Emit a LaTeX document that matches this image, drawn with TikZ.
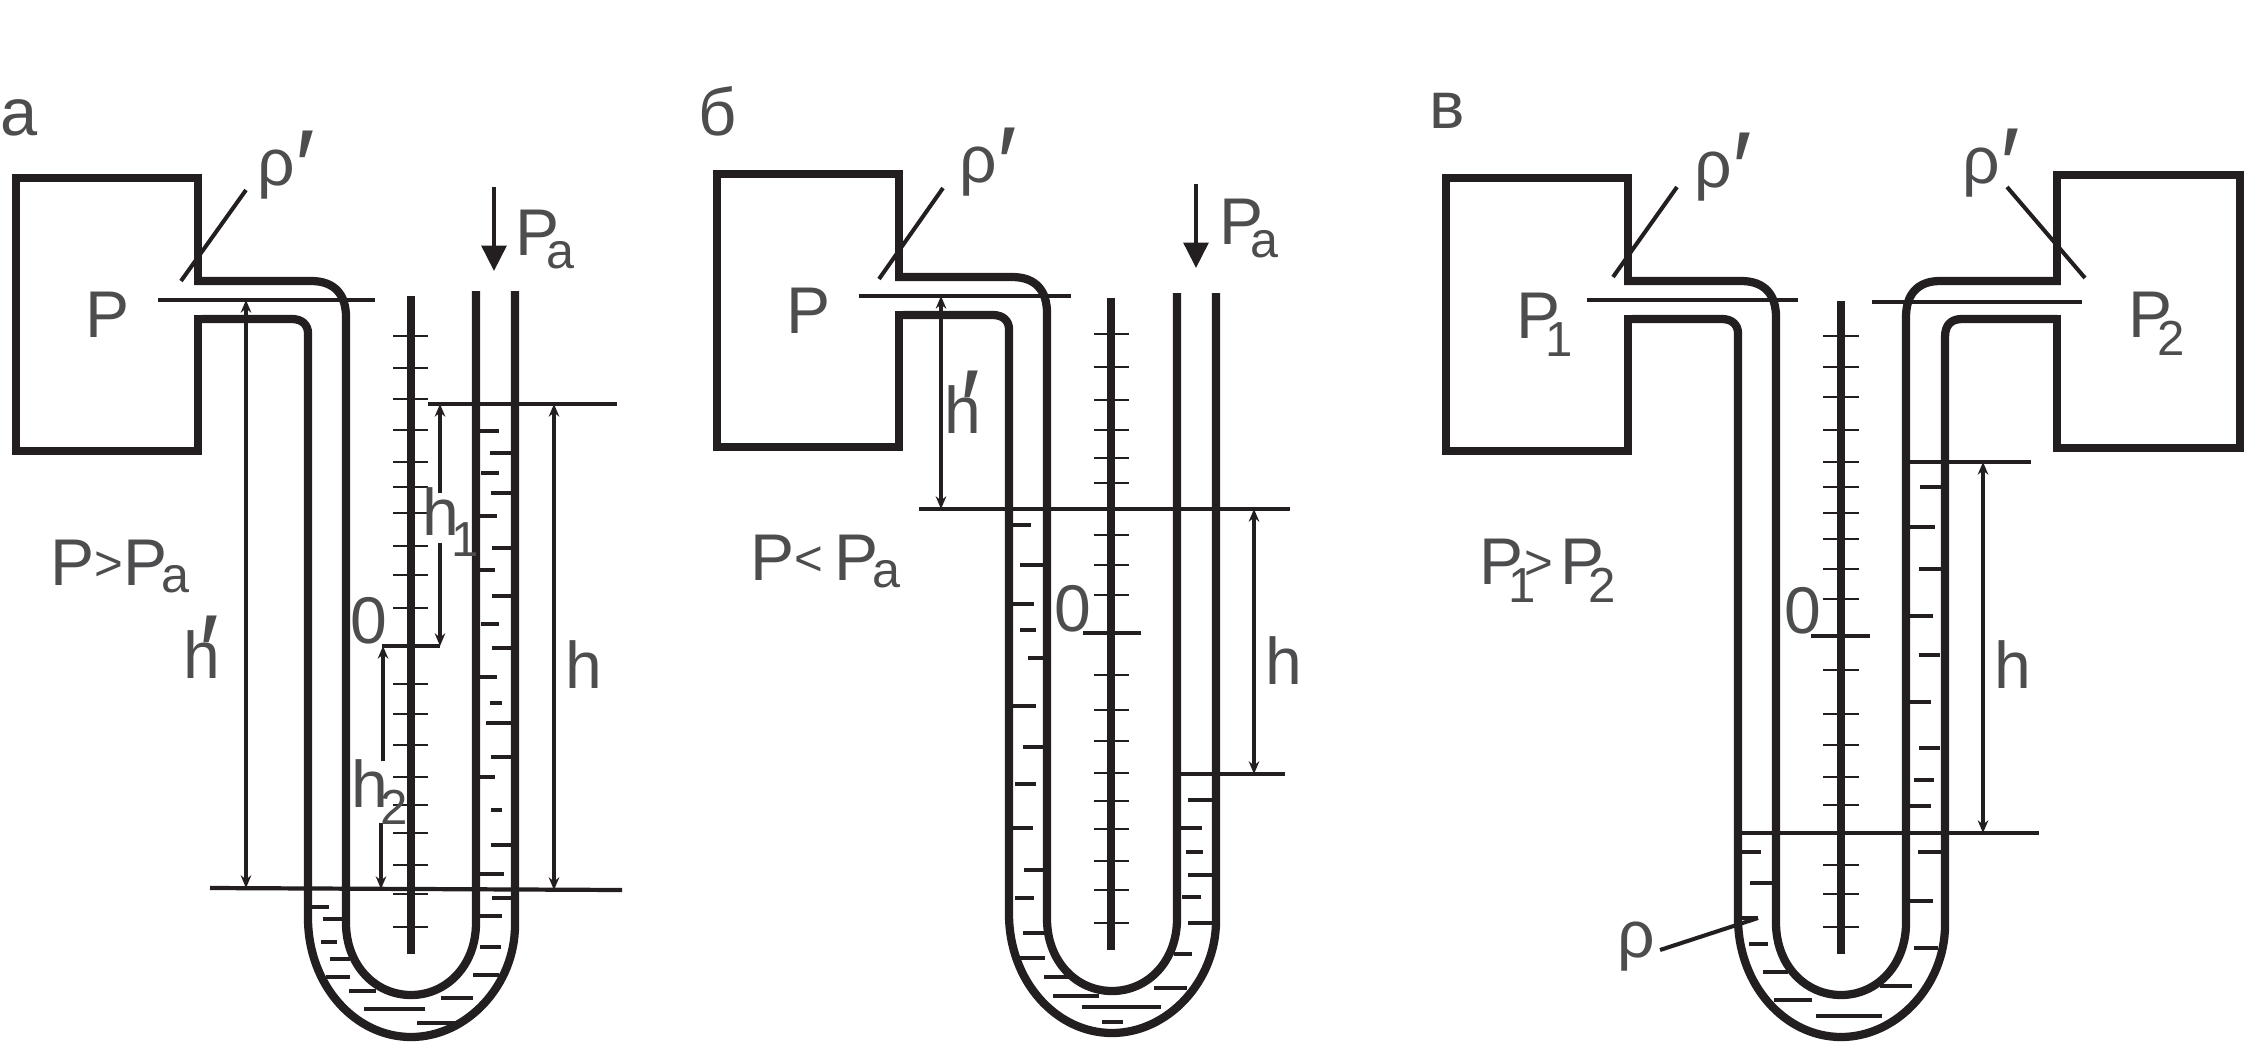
\documentclass[tikz,border=0pt]{standalone}
\usepackage{fontspec}
\setmainfont{Liberation Sans}
\usetikzlibrary{arrows.meta}
\definecolor{ink}{HTML}{231F20}
\definecolor{lettering}{HTML}{4D4D4F}
\newcommand{\lowsub}[2][-3.7pt]{\kern-3.7pt\raisebox{#1}{\fontsize{14.3}{14.3}\selectfont #2}}
\newcommand{\digitsub}[2][-5.2pt]{\kern-4.4pt\raisebox{#1}{\fontsize{14}{14}\selectfont #2}}
\newcommand{\primemark}[1]{\raisebox{#1}{\fontsize{30}{30}\selectfont ′}}
\newcommand{\relmark}[1]{\raisebox{1.4pt}{\fontsize{14}{14}\selectfont #1}}
% vessel with its two pipes, the free ends of the U are given as path pieces
\newcommand{\vessel}{\draw[wall] (198,284.7) -- (198,178) -- (16,178) -- (16,451) -- (198,451) -- (198,315);}
\newcommand{\pipes}[2]{%
\draw[wall] (194.3,281) -- (311,281) .. controls (335,281) and (346,295) .. (346,317) -- (346,923)
	.. controls (346,965) and (375,995) .. (411,995) .. controls (447,995) and (476,965) .. (476,923) #1;
\draw[wall] (202,319) -- (292,319) .. controls (302,319) and (308,325) .. (308,333) -- (308,918)
	.. controls (308,985) and (355,1037) .. (411,1037) .. controls (467,1037) and (515,985) .. (515,925) #2;}
\begin{document}
\begin{tikzpicture}[x=0.1mm,y=-0.1mm,
wall/.style={draw=ink,line width=2.35pt},
tickmark/.style={draw=ink,line width=0.75pt},
dashmark/.style={draw=ink,line width=1.1pt},
level/.style={draw=ink,line width=1.2pt},
leader/.style={draw=ink,line width=1.15pt},
dim/.style={draw=ink,line width=1.1pt,{Stealth[length=3.6pt,width=3pt]}-{Stealth[length=3.6pt,width=3pt]}},
dimup/.style={draw=ink,line width=1.1pt,-{Stealth[length=3.6pt,width=3pt]}},
pressure/.style={draw=ink,line width=1.1pt,-{Triangle[length=7.2pt,width=7pt]}},
lbl/.style={text=lettering,inner sep=0pt,anchor=base west,font=\fontsize{18.8}{18.8}\selectfont},
panelmark/.style={lbl,font=\fontsize{19}{19}\selectfont}]
\useasboundingbox (0,0) rectangle (2244,1041);

% panel a
\vessel
\pipes{-- (476,291)}{-- (515,291)}
\draw[wall] (411,296) -- (411,954);
\foreach \y in {336,368,399,430,462,487,513,546,575,608,684,714,745,777,805,833,865,894,927}
	\draw[tickmark] (393,\y) -- (428,\y);
\draw[level] (382,646) -- (440,646);
\foreach \xa/\xb/\y in {480/499/431,490/511/453,481/499/473,491/511/493,480/497/516,492/511/548,480/495/570,492/511/596,481/499/624,492/511/648,480/497/677,490/502/703,486/511/723,491/511/757,480/495/777,491/502/810,491/511/845,480/504/874,492/511/898,480/502/916,480/501/947,473/499/975,441/473/998,417/457/1023,364/425/1009,349/376/991,326/350/977,330/350/959,321/337/942,323/343/919,311/329/907}
	\draw[dashmark] (\xa,\y) -- (\xb,\y);
\draw[level] (158,300) -- (375,300);
\draw[level] (428,404) -- (617,404);
\draw[level] (210,888) -- (622,890);
\draw[leader] (246,190) -- (181,281);
\draw[pressure] (494,187) -- (494,271);
\draw[dim] (246,300) -- (246,888);
\draw[dim] (554,404) -- (554,890);
\draw[dimup] (440,493) -- (440,404);
\draw[dimup] (440,543) -- (440,646);
\draw[dimup] (383,761) -- (383,646);
\draw[dimup] (381,823) -- (381,889);
\node[panelmark] (marka) at (0,135) {а};
\node[lbl] (rhoa) at (257,185) {ρ\primemark{-5.4pt}};
\node[lbl] (pa) at (85,337) {P};
\node[lbl] (atma) at (515,255) {P\lowsub{a}};
\node[lbl] (relationa) at (50,585) {P\relmark{>}P\kern2pt\lowsub[-2pt]{a}};
\node[lbl] (hprimea) at (183,678) {h\kern-6pt\primemark{-3pt}};
\node[lbl] (zeroa) at (350,643) {0};
\node[lbl] (ha) at (565,688) {h};
\node[lbl] (honea) at (422,535) {h\kern2pt\digitsub[-6pt]{1}};
\node[lbl] (htwoa) at (351,807) {h\kern2pt\digitsub[-5pt]{2}};

% panel b
\begin{scope}[shift={(701,-4)}]
\vessel
\pipes{-- (476,297)}{-- (515,297)}
\end{scope}
\draw[wall] (1111,298) -- (1111,950);
\foreach \y in {334,367,400,430,458,483,535,565,595,675,710,741,773,801,829,861,890,923}
	\draw[tickmark] (1094,\y) -- (1129,\y);
\draw[level] (1083,633) -- (1141,633);
\foreach \xa/\xb/\y in {1012/1031/525,1020/1043/565,1012/1034/604,1020/1036/630,1028/1043/658,1012/1036/706,1023/1043/747,1015/1036/784,1012/1033/828,1024/1043/870,1015/1034/898,1023/1045/933,1019/1045/958,1044/1071/977,1053/1099/996,1082/1161/1007,1102/1123/1022,1154/1187/988,1174/1192/954,1188/1212/923,1182/1201/897,1188/1212/875,1186/1203/852,1180/1202/828,1188/1212/800}
	\draw[dashmark] (\xa,\y) -- (\xb,\y);
\draw[level] (859,296) -- (1071,296);
\draw[level] (919,509) -- (1290,509);
\draw[level] (1176,774) -- (1285,774);
\draw[leader] (943,188) -- (879,279);
\draw[pressure] (1196,184) -- (1196,268);
\draw[dim] (941,296) -- (941,509);
\draw[dim] (1254,509) -- (1254,774);
\node[panelmark] (markb) at (698,135) {б};
\node[lbl] (rhob) at (959,182) {ρ\primemark{-5.4pt}};
\node[lbl] (pb) at (786,333) {P};
\node[lbl] (atmb) at (1219,244) {P\lowsub{a}};
\node[lbl] (relationb) at (750,580) {P\relmark{<}\kern3pt P\kern2pt\lowsub[-2pt]{a}};
\node[lbl] (hprimeb) at (944,433) {h\kern-6pt\primemark{-3pt}};
\node[lbl] (zerob) at (1054,631) {0};
\node[lbl] (hb) at (1265,684) {h};

% panel c
\begin{scope}[shift={(1430,0)}]
\vessel
\pipes{-- (476,317) .. controls (476,295) and (487,281) .. (510,281) -- (630.7,281)}{-- (515,337) .. controls (515,325) and (521,319) .. (532,319) -- (627,319)}
\end{scope}
\draw[wall] (2057,284.7) -- (2057,175) -- (2240,175) -- (2240,448) -- (2057,448) -- (2057,315);
\draw[wall] (1841,301) -- (1841,954);
\foreach \y in {336,367,397,430,462,487,513,539,569,599,670,714,745,777,805,865,894,927}
	\draw[tickmark] (1823,\y) -- (1859,\y);
\draw[level] (1811,636) -- (1870,636);
\foreach \xa/\xb/\y in {1920/1941/487,1909/1935/527,1919/1942/569,1909/1933/616,1919/1940/655,1909/1931/702,1919/1940/748,1914/1934/780,1909/1931/806,1918/1942/852,1909/1933/901,1914/1938/948,1880/1912/986,1816/1882/1016,1774/1812/1000,1763/1788/972,1749/1768/944,1741/1758/918,1750/1772/883,1740/1761/852}
	\draw[dashmark] (\xa,\y) -- (\xb,\y);
\draw[level] (1587,300) -- (1798,300);
\draw[level] (1872,302) -- (2082,302);
\draw[level] (1909,462) -- (2031,462);
\draw[level] (1740,833) -- (2039,833);
\draw[leader] (1677,187) -- (1613,277);
\draw[leader] (2007,187) -- (2085,278);
\draw[leader] (1660,950) -- (1758,918);
\draw[dim] (1983,462) -- (1983,833);
\node[panelmark] (markc) at (1429,128) {в};
\node[lbl] (rhoc) at (1694,187) {ρ\primemark{-5.4pt}};
\node[lbl] (rhod) at (1962,183) {ρ\primemark{-5.4pt}};
\node[lbl] (pone) at (1516,338) {P\digitsub{1}};
\node[lbl] (ptwo) at (2128,337) {P\digitsub{2}};
\node[lbl] (relationc) at (1479,584) {P\digitsub{1}\kern-3.2pt\relmark{>}\kern2pt P\digitsub{2}};
\node[lbl] (zeroc) at (1784,633) {0};
\node[lbl] (hc) at (1994,688) {h};
\node[lbl] (rholiquid) at (1617,957) {ρ};
\end{tikzpicture}
\end{document}
